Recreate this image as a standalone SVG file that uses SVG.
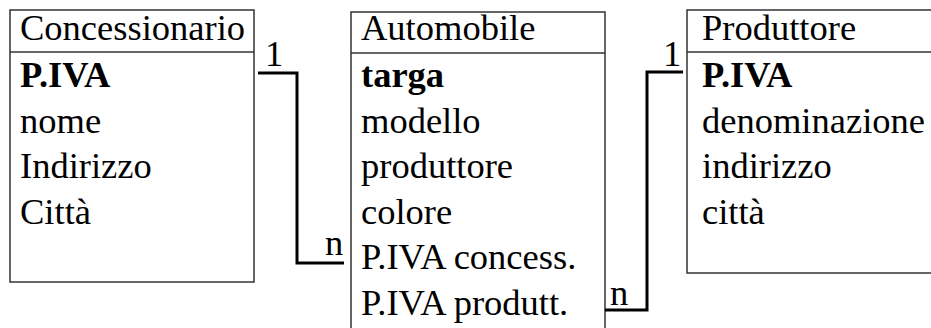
<svg xmlns="http://www.w3.org/2000/svg" width="931" height="328" viewBox="0 0 931 328">
<style>
.box{fill:#fff;stroke:#333;stroke-width:1.5}
.t{font-family:"Liberation Serif","Times New Roman",serif;font-size:36.5px;fill:#000}
.b{font-weight:bold}
.conn{fill:none;stroke:#000;stroke-width:3}
</style>
<rect width="931" height="328" fill="#fff"/>
<g id="concessionario">
<rect class="box" x="10" y="10" width="244" height="272"/>
<line class="box" x1="10" y1="52" x2="254" y2="52"/>
<text class="t" x="20" y="40">Concessionario</text>
<text class="t b" x="20" y="87">P.IVA</text>
<text class="t" x="20" y="132.5">nome</text>
<text class="t" x="20" y="178">Indirizzo</text>
<text class="t" x="20" y="223.5">Città</text>
</g>
<g id="automobile">
<rect class="box" x="351" y="12" width="254" height="330"/>
<line class="box" x1="351" y1="53" x2="605" y2="53"/>
<text class="t" x="361" y="40">Automobile</text>
<text class="t b" x="361" y="87">targa</text>
<text class="t" x="361" y="132.5">modello</text>
<text class="t" x="361" y="178">produttore</text>
<text class="t" x="361" y="223.5">colore</text>
<text class="t" x="361" y="269">P.IVA concess.</text>
<text class="t" x="361" y="314.5">P.IVA produtt.</text>
</g>
<g id="produttore">
<rect class="box" x="687" y="10" width="260" height="263"/>
<line class="box" x1="687" y1="52" x2="947" y2="52"/>
<text class="t" x="702" y="40">Produttore</text>
<text class="t b" x="702" y="87">P.IVA</text>
<text class="t" x="702" y="132.5">denominazione</text>
<text class="t" x="702" y="178">indirizzo</text>
<text class="t" x="702" y="223.5">città</text>
</g>
<g id="connectors">
<path class="conn" d="M258,73 H297 V263 H344"/>
<path class="conn" d="M605,310 H647 V72 H683"/>
<text class="t" x="265" y="66">1</text>
<text class="t" x="325" y="255">n</text>
<text class="t" x="663" y="66">1</text>
<text class="t" x="610" y="305">n</text>
</g>
</svg>
